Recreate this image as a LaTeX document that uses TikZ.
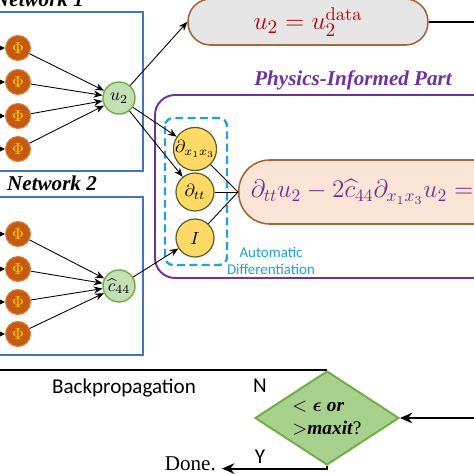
\documentclass[tikz,border=0pt]{standalone}
\usepackage{fontspec}
\usepackage{amsmath}
\usetikzlibrary{arrows.meta,shapes.geometric,positioning}
\newfontfamily\titlefont{Liberation Serif}
\newfontfamily\calfont{Carlito}
\definecolor{netblue}{HTML}{4472C4}
\definecolor{phifill}{HTML}{C55A11}
\definecolor{philine}{HTML}{D9803F}
\definecolor{phitext}{HTML}{FFD700}
\definecolor{outfill}{HTML}{C5E0B4}
\definecolor{outline}{HTML}{70AD47}
\definecolor{derfill}{HTML}{FFD966}
\definecolor{derline}{HTML}{5F5F2A}
\definecolor{physpurple}{HTML}{7030A0}
\definecolor{autocyan}{HTML}{1FA2DA}
\definecolor{peach}{HTML}{FBE5D6}
\definecolor{boxbrown}{HTML}{A8643A}
\definecolor{datagray}{HTML}{E7E6E6}
\definecolor{datared}{HTML}{C00000}
\definecolor{eqpurple}{HTML}{7A2A8C}
\definecolor{checkfill}{HTML}{A9D18E}
\tikzset{
  nettitle/.style = {font=\titlefont\bfseries\itshape\fontsize{12}{14}\selectfont},
  netbox/.style = {draw=netblue, line width=1.1pt},
  arr/.style = {-{Stealth[length=5pt,width=4pt]}, line width=0.5pt},
  flow/.style = {line width=1.2pt},
  calib/.style = {font=\calfont\fontsize{12}{14}\selectfont}
}
\begin{document}
\begin{tikzpicture}[x=0.02cm, y=-0.02cm]
\useasboundingbox (0,0) rectangle (474,474);
% networks
\node[nettitle, anchor=base west] (title1) at (-12,6) {Network 1};
\node[nettitle, anchor=base west] (title2) at (1,190) {Network 2};
\draw[netbox] (-10,12) rectangle (143,171);
\draw[netbox] (-10,197) rectangle (143,355);
\begin{scope}[every node/.style = {circle, draw=philine, fill=phifill, text=phitext,
    line width=0.6pt, minimum size=0.5cm, inner sep=0pt, font=\small}]
\node (Pa1) at (18, 48) {$\Phi$};
\node (Pa2) at (18, 82) {$\Phi$};
\node (Pa3) at (18, 116) {$\Phi$};
\node (Pa4) at (18, 149) {$\Phi$};
\node (Pb1) at (18, 234) {$\Phi$};
\node (Pb2) at (18, 269) {$\Phi$};
\node (Pb3) at (18, 302) {$\Phi$};
\node (Pb4) at (18, 334) {$\Phi$};
\end{scope}
\foreach \n/\y in {Pa1/48, Pa2/82, Pa3/116, Pa4/149, Pb1/234, Pb2/269, Pb3/302, Pb4/334}
  \coordinate (in\n) at (-30, \y);
\begin{scope}[every node/.style = {circle, draw=outline, fill=outfill, line width=0.8pt,
    minimum size=0.64cm, inner sep=0pt}]
\node (u) at (119, 98) {$u_2$};
\node (c) at (119, 286) {$\widehat{c}_{44}$};
\end{scope}
\begin{scope}[every edge/.style = {draw, -{Stealth[length=6pt,width=6pt]}, line width=0.6pt}]
\foreach \n in {Pa1, Pa2, Pa3, Pa4, Pb1, Pb2, Pb3, Pb4}
  \path (in\n) edge (\n);
\end{scope}
\begin{scope}[every edge/.style = {draw, arr}]
\path (Pa1) edge (u);
\path (Pa2) edge (u);
\path (Pa3) edge (u);
\path (Pa4) edge (u);
\path (Pb1) edge (c);
\path (Pb2) edge (c);
\path (Pb3) edge (c);
\path (Pb4) edge (c);
\end{scope}
% data loss
\node[draw=boxbrown, fill=datagray, line width=0.9pt, rounded corners=0.45cm,
  minimum width=4.8cm, minimum height=0.92cm, text=datared,
  font=\fontsize{15}{18}\selectfont] (data) at (308, 22) {$u_2 = u_2^{\mathrm{data}}$};
\coordinate (dataout) at (490, 22);
\draw[flow] (data) -- (dataout);
% physics part
\node[font=\titlefont\bfseries\itshape\fontsize{12}{14}\selectfont, text=physpurple]
  (phystitle) at (353, 80) {Physics-Informed Part};
\draw[physpurple, line width=1.1pt, rounded corners=0.4cm] (155,95) rectangle (560,278);
\draw[autocyan, line width=1.3pt, dash pattern=on 4.5pt off 2.5pt, rounded corners=0.16cm]
  (165,118) rectangle (227,265);
\begin{scope}[every node/.style = {circle, draw=derline, fill=derfill, line width=0.7pt,
    minimum size=0.76cm, inner sep=0pt}]
\node (dxx) at (195, 149) {$\partial_{x_1x_3}$};
\node (dtt) at (195, 192) {$\partial_{tt}$};
\node (idn) at (195, 238) {$I$};
\end{scope}
\node[draw=boxbrown, fill=peach, line width=0.9pt, rounded corners=0.62cm,
  minimum height=1.28cm, inner xsep=0.24cm, text width=8cm, align=left, anchor=west,
  text=eqpurple, font=\fontsize{14.4}{17}\selectfont]
  (pde) at (238, 192) {$\partial_{tt}u_2 - 2\widehat{c}_{44}\partial_{x_1x_3}u_2 =$};
\node[font=\calfont\fontsize{8.5}{10}\selectfont, text=autocyan, align=center]
  (autodiff) at (271, 261) {Automatic\\Differentiation};
\begin{scope}[every edge/.style = {draw, arr}]
\path (u) edge (data.west);
\path (u) edge (dxx);
\path (u) edge (dtt);
\path (c) edge (idn);
\end{scope}
\begin{scope}[every edge/.style = {draw, line width=0.5pt}]
\path (dxx) edge (pde.west);
\path (dtt) edge (pde.west);
\path (idn) edge (pde.west);
\end{scope}
% stopping test
\node[diamond, aspect=1.53, draw=outline, fill=checkfill, line width=1.1pt,
  minimum width=2.88cm, minimum height=1.88cm, inner sep=0pt, align=left,
  font=\titlefont\bfseries\itshape\fontsize{11}{13}\selectfont]
  (stop) at (327, 418) {$<\boldsymbol{\epsilon}$ or\\$>$maxit\textup{\mdseries ?}};
\coordinate (backend) at (-10, 0);
\coordinate (lossin) at (490, 0);
\node[font=\titlefont\fontsize{12}{14}\selectfont, anchor=east] (done) at (222, 464) {Done.};
\draw[flow] (stop.north) -- (backend |- stop.north);
\draw[flow, -{Stealth[length=7pt,width=6pt]}] (lossin |- stop.east) -- (stop.east);
\draw[flow, -{Stealth[length=7pt,width=6pt]}] (stop.south) |- ([yshift=-2.6pt]done.east);
\node[calib] (backprop) at (124, 388) {Backpropagation};
\node[calib] (nlab) at (260, 386) {N};
\node[calib] (ylab) at (260, 457) {Y};
\end{tikzpicture}
\end{document}
